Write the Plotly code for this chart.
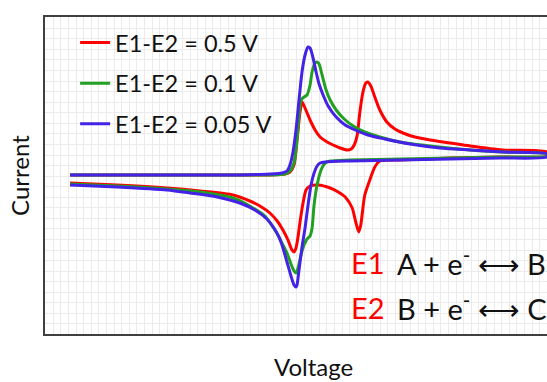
import plotly.graph_objects as go

# ---- data (arbitrary units: voltage 0..100, current relative to baseline) ----
series_names = ["E1-E2 = 0.5 V", "E1-E2 = 0.1 V", "E1-E2 = 0.05 V"]
series_colors = ["#FF0000", "#22A022", "#4422E6"]

# E1-E2 = 0.5 V : forward scan
red_fwd_v = [5.0, 20.9, 36.9, 44.8, 47.8, 48.8, 49.6, 50.2, 50.8, 51.2, 51.8, 52.8, 53.8, 54.8, 56.2, 57.4,
             58.8, 60.2, 61.0, 61.6, 62.2, 62.7, 63.3, 63.9, 64.3, 64.9, 65.7, 66.7, 68.1, 69.7, 71.3, 73.7,
             76.7, 80.7, 84.7, 91.2, 100]
red_fwd_i = [0, 0, 0, 0, 0.5, 1.5, 5, 17.5, 31.5, 36.5, 33.5, 27.5, 22.5, 19, 16.5, 15,
             13.5, 12.5, 13, 15, 20, 31, 41, 46, 46.5, 44.5, 39, 32.5, 26.5, 23, 21, 19,
             17.5, 16, 14.5, 12.5, 11.5]
# E1-E2 = 0.5 V : reverse scan
red_rev_v = [100, 90.6, 80.7, 70.7, 66.7, 65.7, 64.7, 63.7, 62.9, 62.5, 61.9, 61.2, 59.8, 58.4, 56.8, 54.4,
             52.8, 52.0, 51.4, 50.8, 50.4, 50.0, 49.6, 49.2, 48.4, 47.4, 46.4, 44.8, 42.8, 40.8, 37.5, 30.9,
             24.3, 14.3, 5.0]
red_rev_i = [9.5, 9, 8.5, 7.5, 7, 4, -2.5, -10, -25, -28.5, -23.5, -16.5, -11, -8.5, -6.5, -5,
             -5.5, -7.5, -14, -23.5, -31, -36.5, -38.5, -37.5, -32.5, -27.5, -23.5, -19, -15.5, -13, -10, -8,
             -6.5, -5, -4]

# E1-E2 = 0.1 V
green_fwd_v = [5.0, 20.9, 36.9, 44.8, 47.8, 48.8, 49.6, 50.2, 50.6, 51.0, 51.6, 52.2, 52.8, 53.2, 53.8, 54.2,
               54.6, 55.2, 56.0, 56.8, 58.0, 59.6, 61.4, 63.7, 66.7, 70.7, 76.7, 84.7, 91.2, 100]
green_fwd_i = [0, 0, 0, 0, 0.5, 2, 6, 17.5, 30, 37.5, 39, 40, 45, 51.5, 56, 56.5,
               55.5, 50, 42.5, 37.5, 32.5, 28, 24.5, 21.5, 19, 16.5, 14.5, 12.5, 11.5, 10.5]
green_rev_v = [100, 90.6, 80.7, 70.7, 60.8, 56.8, 55.8, 55.0, 54.2, 53.6, 53.2, 52.8, 52.2, 51.6, 51.0, 50.4,
               50.0, 49.6, 49.0, 48.2, 47.4, 46.4, 45.4, 43.8, 40.8, 37.5, 30.9, 24.3, 14.3, 5.0]
green_rev_i = [9.5, 9, 8.5, 8, 7.5, 7, 6, 2.5, -5, -15, -26.5, -30.5, -32, -35, -40, -46.5,
               -49, -48, -44.5, -39, -35, -30, -26, -20.5, -15.5, -11.5, -8.5, -7, -5.5, -4.5]

# E1-E2 = 0.05 V
blue_fwd_v = [5.0, 20.9, 36.9, 44.8, 47.2, 48.2, 48.8, 49.4, 50.0, 50.6, 51.2, 51.8, 52.4, 52.8, 53.4, 54.0,
              54.6, 55.4, 56.4, 58.0, 59.8, 61.8, 64.3, 67.7, 72.7, 78.7, 84.7, 91.2, 100]
blue_fwd_i = [0, 0, 0, 0.5, 1, 2, 5, 11.5, 22.5, 37.5, 51.5, 60, 64, 63.5, 58.5, 51.5,
              45.5, 40, 34.5, 29, 25, 22.5, 20, 18, 15.5, 13.5, 12.5, 11.5, 10.5]
blue_rev_v = [100, 90.6, 80.7, 70.7, 60.8, 55.8, 54.8, 54.2, 53.6, 53.0, 52.4, 51.8, 51.2, 50.6, 50.2, 50.0,
              49.6, 49.0, 48.2, 47.4, 46.6, 45.6, 44.2, 41.8, 38.8, 34.3, 28.9, 24.3, 14.3, 5.0]
blue_rev_i = [9, 8.5, 8, 7.5, 7, 6.5, 6, 4.5, 1, -5, -15, -26.5, -36, -47.5, -55, -56,
              -55, -50.5, -43.5, -36.5, -31, -26.5, -22, -17.5, -14, -11, -9, -7.5, -6, -5]

curves_v = [red_fwd_v + red_rev_v, green_fwd_v + green_rev_v, blue_fwd_v + blue_rev_v]
curves_i = [red_fwd_i + red_rev_i, green_fwd_i + green_rev_i, blue_fwd_i + blue_rev_i]

FONT = "Lato, 'Open Sans', sans-serif"

fig = go.Figure()
for k in range(3):
    fig.add_trace(go.Scatter(
        x=curves_v[k], y=curves_i[k], mode="lines", name=series_names[k],
        legendgroup=str(k),
        line=dict(color=series_colors[k], width=3, shape="spline", smoothing=0.7),
    ))

grid_col = "#EBEBEB"
fig.update_layout(
    width=547, height=382,
    margin=dict(l=45, r=0, t=17, b=48),
    paper_bgcolor="white", plot_bgcolor="white",
    font=dict(family=FONT, color="#111111"),
    showlegend=True,
    legend=dict(x=0.06, y=0.988, xanchor="left", yanchor="top",
                bgcolor="rgba(0,0,0,0)", font=dict(size=23.5, family=FONT, color="#111111"),
                traceorder="grouped", tracegroupgap=7, itemwidth=30),
    xaxis=dict(range=[0, 100], showticklabels=False, ticks="", zeroline=False,
               showgrid=True, gridcolor=grid_col, gridwidth=1, tick0=1.65, dtick=1.514,
               showline=True, linecolor="#404040", linewidth=2, mirror=True),
    yaxis=dict(range=[-79.5, 79], showticklabels=False, ticks="", zeroline=False,
               showgrid=True, gridcolor=grid_col, gridwidth=1, tick0=73.35, dtick=5.28,
               showline=True, linecolor="#404040", linewidth=2, mirror=False),
)

ann = [
    dict(text="Current", x=-0.05, y=0.5016, textangle=-90, font=dict(size=24)),
    dict(text="Voltage", x=0.534, y=-0.104, font=dict(size=24)),
    dict(text="E1", x=0.6056, y=0.227, xanchor="left", font=dict(size=29, color="#FF0000")),
    dict(text="A + e<sup>-</sup> \u27F7 B", x=0.698, y=0.227, xanchor="left", font=dict(size=29)),
    dict(text="E2", x=0.6056, y=0.085, xanchor="left", font=dict(size=29, color="#FF0000")),
    dict(text="B + e<sup>-</sup> \u27F7 C", x=0.698, y=0.085, xanchor="left", font=dict(size=29)),
]
for a in ann:
    a.setdefault("xanchor", "center")
    fig.add_annotation(xref="paper", yref="paper", showarrow=False, yanchor="middle", **a)

fig.write_html("out.html")
